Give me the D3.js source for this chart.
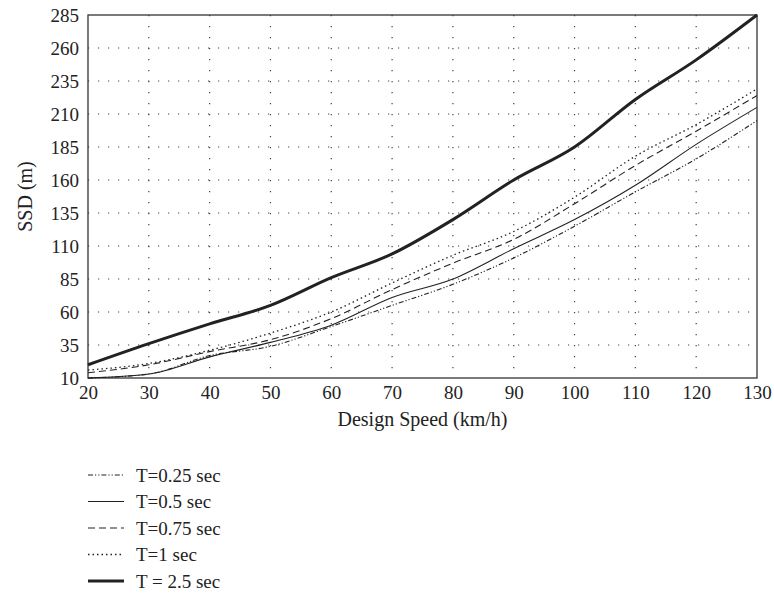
<!DOCTYPE html>
<html>
<head>
<meta charset="utf-8">
<script src="https://cdn.jsdelivr.net/npm/d3@7"></script>
<style>
  body { margin: 0; background: #fff; }
  text { font-family: "Liberation Serif", "DejaVu Serif", serif; fill: #222; }
</style>
</head>
<body>
<div id="chart"></div>
<script>
// design speed (km/h)
const speeds = [20, 30, 40, 50, 60, 70, 80, 90, 100, 110, 120, 130];
// SSD (m) for each perception-reaction time
const t025 = [10, 13, 27, 34, 49, 65, 81, 101, 125, 151, 176, 205];
const t05  = [10, 13, 26, 37, 50, 71, 85, 108, 130, 156, 187, 215];
const t075 = [14, 20, 30, 39, 55, 77, 97, 115, 142, 171, 197, 224];
const t1   = [16, 21, 31, 44, 60, 82, 103, 121, 147, 178, 202, 229];
const t25  = [20, 36, 51, 65, 86, 104, 130, 160, 185, 221, 251, 285];
const yTicks = [10, 35, 60, 85, 110, 135, 160, 185, 210, 235, 260, 285];
const labels = ["T=0.25 sec", "T=0.5 sec", "T=0.75 sec", "T=1 sec", "T = 2.5 sec"];

const series = [
    { name: labels[0], values: t025, dash: "5,2,1.2,2,1.2,2", width: 1.1 },
    { name: labels[1], values: t05, dash: null, width: 1.1 },
    { name: labels[2], values: t075, dash: "7,4", width: 1.1 },
    { name: labels[3], values: t1, dash: "1.5,3", width: 1.3 },
    { name: labels[4], values: t25, dash: null, width: 3 }
];

const W = 774, H = 594;
const m = { left: 88, right: 17, top: 15, bottom: 216 };

const svg = d3.select("#chart").append("svg")
    .attr("width", W)
    .attr("height", H);

const x = d3.scaleLinear().domain([20, 130]).range([m.left, W - m.right]);
const y = d3.scaleLinear().domain([10, 285]).range([H - m.bottom, m.top]);

// dotted grid
const grid = svg.append("g").attr("stroke", "#444").attr("stroke-width", 1.2);
grid.selectAll("line.h")
    .data(yTicks.slice(1, -1))
    .enter().append("line")
    .attr("x1", x(20)).attr("x2", x(130))
    .attr("y1", d => y(d)).attr("y2", d => y(d))
    .attr("stroke-dasharray", "1.2,8.8");
grid.selectAll("line.v")
    .data(speeds.slice(1, -1))
    .enter().append("line")
    .attr("x1", d => x(d)).attr("x2", d => x(d))
    .attr("y1", y(285)).attr("y2", y(10))
    .attr("stroke-dasharray", "1.2,9.8");

// axes
const xAxis = svg.append("g")
    .attr("transform", `translate(0,${y(10)})`)
    .call(d3.axisBottom(x).tickValues(speeds).tickSize(0).tickPadding(8));
const yAxis = svg.append("g")
    .attr("transform", `translate(${x(20)},0)`)
    .call(d3.axisLeft(y).tickValues(yTicks).tickSize(0).tickPadding(9));
[xAxis, yAxis].forEach(a => {
    a.select(".domain").remove();
    a.selectAll("text").style("font-size", "19px").attr("fill", "#222");
});

// frame
svg.append("rect")
    .attr("x", x(20)).attr("y", y(285))
    .attr("width", x(130) - x(20)).attr("height", y(10) - y(285))
    .attr("fill", "none").attr("stroke", "#333").attr("stroke-width", 1.3);

// lines
const line = d3.line()
    .x((d, i) => x(speeds[i]))
    .y(d => y(d))
    .curve(d3.curveMonotoneX);

svg.append("g")
    .selectAll("path")
    .data(series)
    .enter().append("path")
    .attr("d", d => line(d.values))
    .attr("fill", "none")
    .attr("stroke", "#222")
    .attr("stroke-width", d => d.width)
    .attr("stroke-dasharray", d => d.dash);

// axis titles
svg.append("text")
    .attr("x", (x(20) + x(130)) / 2)
    .attr("y", 426)
    .attr("text-anchor", "middle")
    .style("font-size", "20px")
    .text("Design Speed (km/h)");
svg.append("text")
    .attr("transform", `translate(32,${(y(10) + y(285)) / 2}) rotate(-90)`)
    .attr("text-anchor", "middle")
    .style("font-size", "20px")
    .text("SSD (m)");

// legend
const leg = svg.append("g").attr("transform", "translate(88,475)");
const row = leg.selectAll("g")
    .data(series)
    .enter().append("g")
    .attr("transform", (d, i) => `translate(0,${i * 26.5})`);
row.append("line")
    .attr("x1", 0).attr("x2", 36)
    .attr("stroke", "#222")
    .attr("stroke-width", d => d.width)
    .attr("stroke-dasharray", d => d.dash);
row.append("text")
    .attr("x", 48)
    .attr("dy", "0.35em")
    .style("font-size", "19px")
    .text(d => d.name);
</script>
</body>
</html>
